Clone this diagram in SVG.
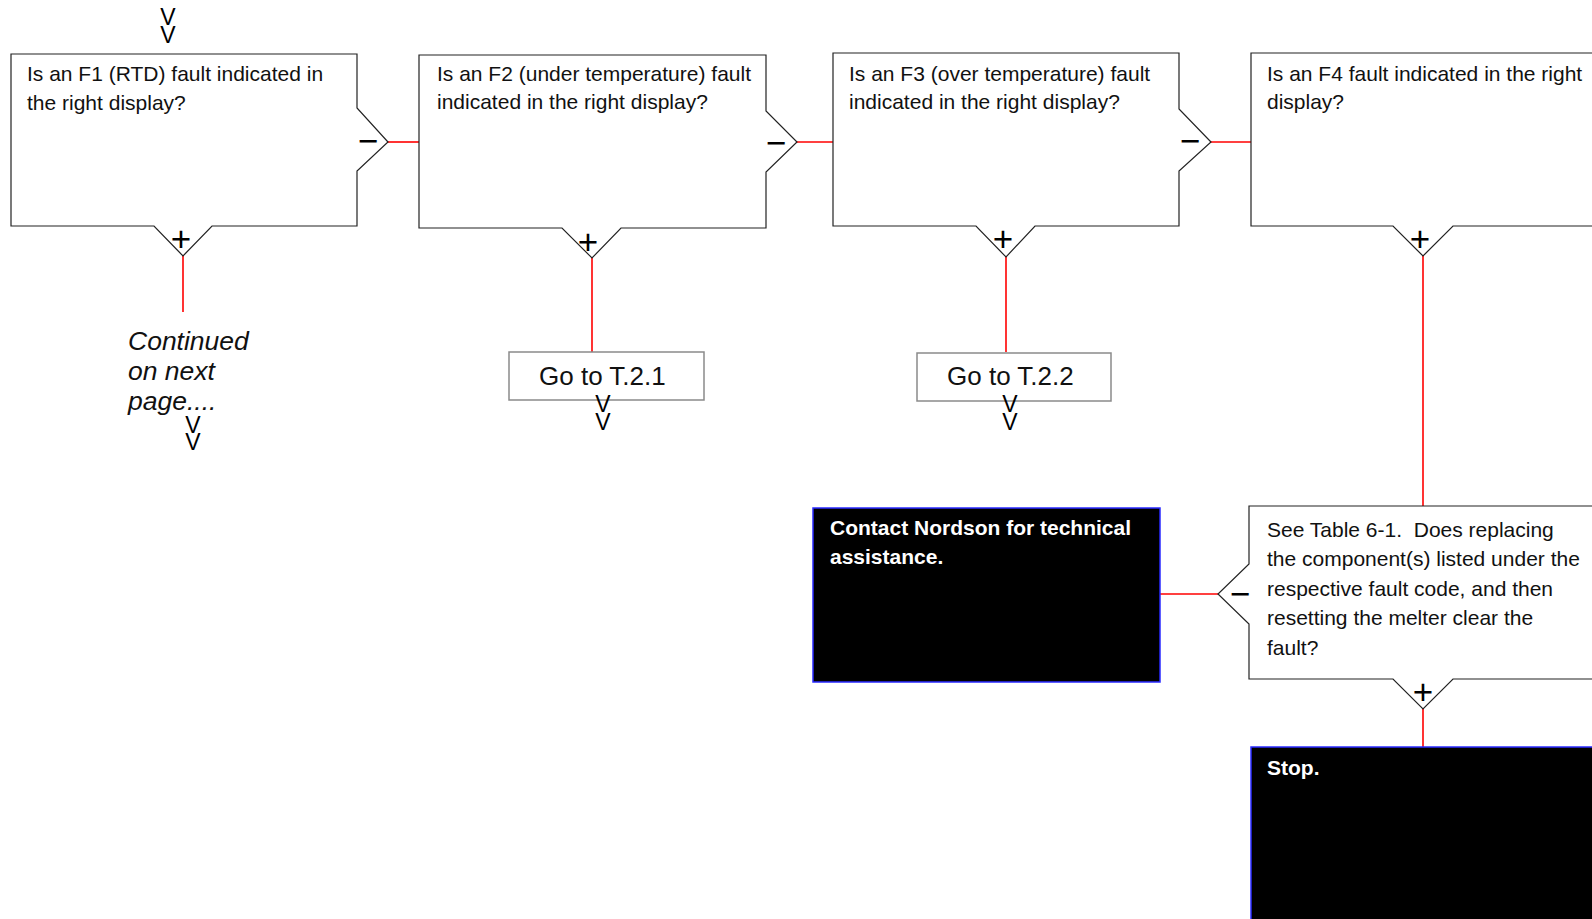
<svg xmlns="http://www.w3.org/2000/svg" width="1592" height="919" viewBox="0 0 1592 919">
<style>
.q{fill:#fff;stroke:#222;stroke-width:1.2}
.go{fill:#fff;stroke:#8a8a8a;stroke-width:1.5}
.blk{fill:#000;stroke:#2a2aff;stroke-width:1.5}
.t{font-family:"Liberation Sans",Arial,sans-serif;font-size:21px;fill:#111;white-space:pre}
.tw{font-family:"Liberation Sans",Arial,sans-serif;font-size:21px;font-weight:bold;fill:#fff}
.gt{font-family:"Liberation Sans",Arial,sans-serif;font-size:26px;fill:#111}
.it{font-family:"Liberation Sans",Arial,sans-serif;font-size:26.5px;font-style:italic;fill:#111}
.pm{font-family:"Liberation Sans",Arial,sans-serif;font-size:35px;fill:#000;text-anchor:middle}
.v{font-family:"Liberation Sans",Arial,sans-serif;font-size:23px;fill:#000;text-anchor:middle}
.c{stroke:#ff0000;stroke-width:1.6;fill:none}
</style>
<g id="connectors">
<path class="c" d="M388,142H419"/>
<path class="c" d="M797,142H833"/>
<path class="c" d="M1211,142H1251"/>
<path class="c" d="M183,256V312"/>
<path class="c" d="M592,258V352"/>
<path class="c" d="M1006,257V352"/>
<path class="c" d="M1423,256V506"/>
<path class="c" d="M1218,594H1160"/>
<path class="c" d="M1423,709V747"/>
</g>
<g id="start">
<text class="v"><tspan x="168" y="25">V</tspan><tspan x="168" y="43">V</tspan></text>
</g>
<g id="q1">
<path class="q" d="M11,54H357V108L388,142L357,171V226H212L183,256L154,226H11Z"/>
<text class="t" x="27" y="81">Is an F1 (RTD) fault indicated in</text>
<text class="t" x="27" y="110">the right display?</text>
<text class="pm" x="368" y="153">−</text>
<text class="pm" x="181" y="251">+</text>
</g>
<g id="q2">
<path class="q" d="M419,55H766V111L797,142L766,172V228H621L592,258L562,228H419Z"/>
<text class="t" x="437" y="81">Is an F2 (under temperature) fault</text>
<text class="t" x="437" y="109">indicated in the right display?</text>
<text class="pm" x="776" y="155">−</text>
<text class="pm" x="588" y="254">+</text>
</g>
<g id="q3">
<path class="q" d="M833,53H1179V109L1211,142L1179,171V226H1035L1006,257L976,226H833Z"/>
<text class="t" x="849" y="81">Is an F3 (over temperature) fault</text>
<text class="t" x="849" y="109">indicated in the right display?</text>
<text class="pm" x="1190" y="153">−</text>
<text class="pm" x="1003" y="251">+</text>
</g>
<g id="q4">
<path class="q" d="M1251,53H1610V226H1453L1423,256L1393,226H1251Z"/>
<text class="t" x="1267" y="81">Is an F4 fault indicated in the right</text>
<text class="t" x="1267" y="109">display?</text>
<text class="pm" x="1420" y="251">+</text>
</g>
<g id="continued">
<text class="it" x="128" y="350">Continued</text>
<text class="it" x="128" y="380">on next</text>
<text class="it" x="128" y="410">page....</text>
<text class="v"><tspan x="193" y="433">V</tspan><tspan x="193" y="450">V</tspan></text>
</g>
<g id="goto21">
<rect class="go" x="509" y="352" width="195" height="48"/>
<text class="gt" x="539" y="385">Go to T.2.1</text>
<text class="v"><tspan x="603" y="412">V</tspan><tspan x="603" y="430">V</tspan></text>
</g>
<g id="goto22">
<rect class="go" x="917" y="353" width="194" height="48"/>
<text class="gt" x="947" y="385">Go to T.2.2</text>
<text class="v"><tspan x="1010" y="412">V</tspan><tspan x="1010" y="430">V</tspan></text>
</g>
<g id="q5">
<path class="q" d="M1249,506H1610V679H1453L1423,709L1393,679H1249V624L1218,594L1249,564Z"/>
<text class="t" x="1267" y="537">See Table 6-1.  Does replacing</text>
<text class="t" x="1267" y="566">the component(s) listed under the</text>
<text class="t" x="1267" y="596">respective fault code, and then</text>
<text class="t" x="1267" y="625">resetting the melter clear the</text>
<text class="t" x="1267" y="655">fault?</text>
<text class="pm" x="1240" y="606">−</text>
<text class="pm" x="1423" y="704">+</text>
</g>
<g id="contact">
<rect class="blk" x="813" y="508" width="347" height="174"/>
<text class="tw" x="830" y="535">Contact Nordson for technical</text>
<text class="tw" x="830" y="564">assistance.</text>
</g>
<g id="stop">
<rect class="blk" x="1251" y="747" width="360" height="200"/>
<text class="tw" x="1267" y="775">Stop.</text>
</g>
</svg>
